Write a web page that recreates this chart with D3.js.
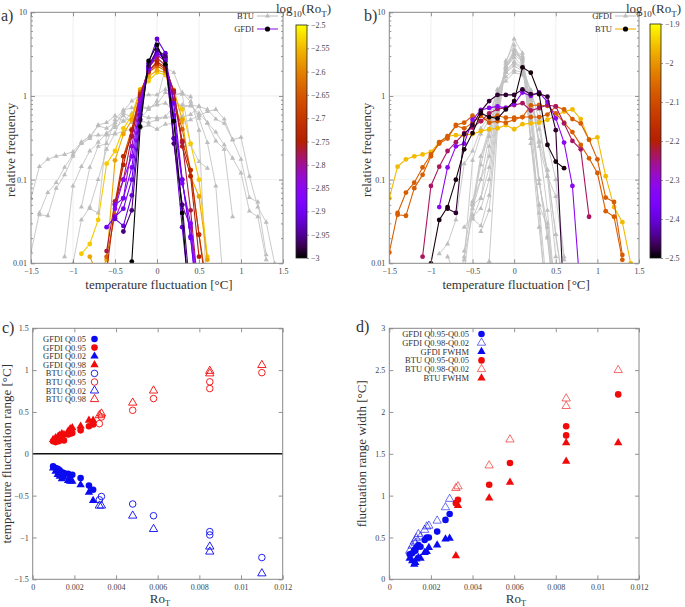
<!DOCTYPE html>
<html><head><meta charset="utf-8">
<script src="https://cdn.jsdelivr.net/npm/d3@7"></script>
<style>body{margin:0;background:#fff}</style>
</head><body>
<svg id="c" width="685" height="607"></svg>
<script>
// ---------- DATA ----------
const fluct = [-1.5,-1.4,-1.3,-1.2,-1.1,-1.0,-0.9,-0.8,-0.7,-0.6,-0.5,-0.4,-0.3,-0.2,-0.1,0,0.1,0.2,0.3,0.4,0.5,0.6,0.7,0.8,0.9,1.0,1.1,1.2,1.3,1.4,1.5];

// BTU distributions (first index into fluct, then values)
const btuCurveRo = [0.0032,0.0033,0.0048,0.0058,0.0085,0.0085,0.011];
const btuCurveFirst = [5,7,6,4,0,1,0];
const btuFreq = [
  [0.01,0.033,0.047,0.1,0.23,0.36,0.62,0.56,0.54,0.69,0.87,2.2,1.9,1.05,0.26,0.164,0.137],
  [0.045,0.04,0.35,0.45,0.66,0.87,1.03,1.03,1.03,1.2,1.05,1.07,0.98,0.39,0.003],
  [0.047,0.14,0.25,0.27,0.52,0.68,0.72,0.75,0.72,0.8,1.1,1.0,1.1,0.85,0.54,0.277,0.084,0.004],
  [0.012,0.084,0.143,0.22,0.28,0.36,0.42,0.5,0.62,0.7,0.72,0.78,0.82,0.67,0.72,0.78,0.75,0.47,0.29,0.23,0.036],
  [0.0135,0.04,0.07,0.092,0.14,0.2,0.27,0.31,0.45,0.48,0.58,0.5,0.55,0.58,0.55,0.55,0.56,0.56,0.56,0.6,0.75,0.69,0.53,0.47,0.3,0.175,0.061,0.054,0.0126],
  [0.038,0.037,0.079,0.114,0.19,0.28,0.33,0.44,0.41,0.48,0.58,0.48,0.5,0.48,0.52,0.56,0.77,0.78,0.76,0.62,0.48,0.37,0.26,0.18,0.12,0.042,0.036,0.011],
  [0.06,0.143,0.175,0.19,0.2,0.215,0.28,0.33,0.34,0.34,0.35,0.38,0.4,0.41,0.45,0.4,0.46,0.47,0.48,0.52,0.58,0.65,0.69,0.53,0.3,0.32,0.11,0.047,0.031,0.01]
];

// GFDI distributions
const gfdiCurveRo = [0.00098,0.0011,0.0012,0.00125,0.0013,0.0014,0.0015,0.0017,0.0018,0.0019,0.0023,0.0027,0.0029];
const gfdiCurveFirst = [12,11,10,9,10,10,10,9,9,10,9,7,6];
const gfdiFreq = [
  [0.0105,0.43,2.62,4.07,2.39,0.5,0.04,0.002],
  [0.024,0.043,0.52,2.3,3.55,3.0,0.27,0.05,0.004],
  [0.034,0.028,0.065,0.6,2.45,4.8,3.24,0.31,0.027,0.003],
  [0.027,0.036,0.045,0.1,0.68,2.2,3.24,2.9,0.82,0.1,0.021,0.002],
  [0.05,0.06,0.14,0.75,2.1,3.55,2.8,0.59,0.1,0.02,0.003],
  [0.045,0.1,0.19,0.8,2.08,3.3,2.7,0.52,0.09,0.03,0.004],
  [0.034,0.06,0.25,0.9,2.2,3.1,2.6,0.31,0.05,0.027,0.003],
  [0.014,0.055,0.1,0.33,0.95,2.2,2.87,2.3,1.1,0.28,0.043,0.004],
  [0.008,0.05,0.15,0.39,1.0,2.0,2.57,2.2,1.15,0.25,0.11,0.012],
  [0.052,0.19,0.33,1.05,1.95,2.45,2.1,0.9,0.29,0.13,0.022,0.004],
  [0.012,0.038,0.19,0.4,1.1,1.9,2.28,2.0,0.9,0.4,0.13,0.022,0.005],
  [0.012,0.007,0.011,0.17,0.35,0.52,1.18,1.7,2.04,1.9,1.18,0.52,0.11,0.063,0.011],
  [0.013,0.017,0.033,0.155,0.22,0.41,0.58,1.2,1.51,1.92,1.78,0.96,0.69,0.27,0.1,0.012]
];

// Quantile / width statistics
const gfdiRo   = [0.00098,0.0011,0.0012,0.00125,0.0013,0.0014,0.0015,0.0017,0.0018,0.0019,0.0023,0.0027,0.0029];
const gfdiQ05  = [-0.15,-0.17,-0.18,-0.19,-0.20,-0.22,-0.23,-0.24,-0.26,-0.25,-0.29,-0.38,-0.43];
const gfdiQ95  = [0.15,0.14,0.17,0.15,0.18,0.19,0.16,0.23,0.24,0.25,0.28,0.33,0.35];
const gfdiQ02  = [-0.17,-0.21,-0.25,-0.22,-0.27,-0.30,-0.28,-0.32,-0.33,-0.33,-0.37,-0.46,-0.56];
const gfdiQ98  = [0.17,0.19,0.20,0.21,0.22,0.24,0.23,0.27,0.30,0.31,0.33,0.40,0.40];
const gfdiW90  = [0.30,0.31,0.35,0.34,0.38,0.41,0.39,0.47,0.50,0.50,0.57,0.71,0.78];
const gfdiW96  = [0.34,0.40,0.45,0.43,0.49,0.54,0.51,0.59,0.63,0.64,0.70,0.86,0.96];
const gfdiFWHM = [0.25,0.22,0.18,0.20,0.24,0.26,0.25,0.32,0.33,0.38,0.41,0.48,0.49];

const btuRo   = [0.0032,0.0033,0.0048,0.0058,0.0085,0.0085,0.011];
const btuQ05  = [-0.55,-0.51,-0.60,-0.74,-0.93,-0.97,-1.24];
const btuQ95  = [0.36,0.44,0.52,0.66,0.78,0.86,0.97];
const btuQ02  = [-0.62,-0.62,-0.74,-0.90,-1.11,-1.17,-1.43];
const btuQ98  = [0.46,0.48,0.61,0.755,0.96,0.99,1.06];
const btuW90  = [0.91,0.95,1.13,1.39,1.72,1.83,2.21];
const btuW96  = [1.09,1.11,1.36,1.67,2.07,2.16,2.50];
const btuFWHM = [0.28,0.88,0.97,1.16,1.41,1.63,1.63];

// tick labels
const distXTicks = [-1.5,-1,-0.5,0,0.5,1,1.5];
const distYTicks = [0.01,0.1,1,10];
const cbTicksA = [-2.5,-2.55,-2.6,-2.65,-2.7,-2.75,-2.8,-2.85,-2.9,-2.95,-3];
const cbTicksB = [-1.9,-2,-2.1,-2.2,-2.3,-2.4,-2.5];
const roTicks = [0,0.002,0.004,0.006,0.008,0.01,0.012];
const rangeTicks = [-1.5,-1,-0.5,0,0.5,1,1.5];
const widthTicks = [0,0.5,1,1.5,2,2.5,3];

// ---------- STYLE ----------
const FONT = "'Liberation Serif','Times New Roman',serif";
const BLUE = "#0b0bf0", RED = "#f00a0a";
const GRAYL = "#c4c4c4", GRAYM = "#bdbdbd";
const svg = d3.select('#c');
const defs = svg.append('defs');

function palette(t){
  t = Math.max(0, Math.min(1, t));
  const r = Math.sqrt(t), g = t*t*t, b = Math.max(0, Math.sin(2*Math.PI*t));
  return d3.rgb(r*255, g*255, b*255).toString();
}

function styleAxis(sel){
  sel.attr('font-family',FONT);
  sel.select('.domain').remove();
  sel.selectAll('.tick line').attr('stroke','#777').attr('stroke-width',0.8);
  sel.selectAll('.tick text').attr('font-family',FONT).attr('font-size',8).attr('fill','#444');
}

function frameAxes(g, x, y, box, xt, xf, yt, yf, yMinor){
  const [X0,X1,Y0,Y1] = box;
  g.append('g').attr('transform',`translate(0,${Y1})`)
    .call(d3.axisBottom(x).tickValues(xt).tickFormat(xf).tickSizeInner(-4).tickSizeOuter(0).tickPadding(5)).call(styleAxis);
  g.append('g').attr('transform',`translate(0,${Y0})`)
    .call(d3.axisTop(x).tickValues(xt).tickFormat('').tickSizeInner(-4).tickSizeOuter(0)).call(styleAxis);
  g.append('g').attr('transform',`translate(${X0},0)`)
    .call(d3.axisLeft(y).tickValues(yt).tickFormat(yf).tickSizeInner(-4).tickSizeOuter(0).tickPadding(4)).call(styleAxis);
  g.append('g').attr('transform',`translate(${X1},0)`)
    .call(d3.axisRight(y).tickValues(yt).tickFormat('').tickSizeInner(-4).tickSizeOuter(0)).call(styleAxis);
  if (yMinor){
    g.append('g').attr('transform',`translate(${X0},0)`)
      .call(d3.axisLeft(y).tickValues(yMinor).tickFormat('').tickSizeInner(-2).tickSizeOuter(0)).call(styleAxis);
    g.append('g').attr('transform',`translate(${X1},0)`)
      .call(d3.axisRight(y).tickValues(yMinor).tickFormat('').tickSizeInner(-2).tickSizeOuter(0)).call(styleAxis);
  }
  g.append('rect').attr('x',X0).attr('y',Y0).attr('width',X1-X0).attr('height',Y1-Y0)
    .attr('fill','none').attr('stroke','#888').attr('stroke-width',1);
}

function label(g, txt, x, y, size, rot, anchor){
  const t = g.append('text').attr('font-family',FONT).attr('font-size',size).attr('fill','#333')
    .attr('text-anchor',anchor||'middle');
  if (rot) t.attr('transform',`translate(${x},${y}) rotate(${rot})`); else t.attr('x',x).attr('y',y);
  return t.text(txt);
}

function roLabel(g, x, y, size){
  const t = g.append('text').attr('font-family',FONT).attr('font-size',size).attr('fill','#333')
    .attr('text-anchor','middle').attr('x',x).attr('y',y);
  t.append('tspan').text('Ro');
  t.append('tspan').attr('font-size',size*0.65).attr('dy',3).text('T');
}

function logRoLabel(g, x, y){
  const t = g.append('text').attr('font-family',FONT).attr('font-size',13).attr('fill','#333').attr('x',x).attr('y',y);
  t.append('tspan').text('log');
  t.append('tspan').attr('font-size',9).attr('dy',4).text('10');
  t.append('tspan').attr('dy',-4).text('(Ro');
  t.append('tspan').attr('font-size',9).attr('dy',4).text('T');
  t.append('tspan').attr('dy',-4).text(')');
}

const yMinorLog = [];
[0.01,0.1,1].forEach(d => { for (let k=2;k<=9;k++) yMinorLog.push(d*k); });

function curvePoints(first, vals){ return vals.map((v,j)=>[fluct[first+j], v]); }

function distPanel(opt){
  const [X0,X1,Y0,Y1] = opt.box;
  const g = svg.append('g');
  const x = d3.scaleLinear().domain([-1.5,1.5]).range([X0,X1]);
  const y = d3.scaleLog().domain([0.01,10]).range([Y1,Y0]);
  // grid
  g.append('g').selectAll('line').data([-1,-0.5,0,0.5,1]).join('line')
    .attr('x1',d=>x(d)).attr('x2',d=>x(d)).attr('y1',Y0).attr('y2',Y1).attr('stroke','#ececec').attr('stroke-width',0.8);
  g.append('g').selectAll('line').data([0.1,1]).join('line')
    .attr('y1',d=>y(d)).attr('y2',d=>y(d)).attr('x1',X0).attr('x2',X1).attr('stroke','#ececec').attr('stroke-width',0.8);
  const cid = 'clip'+opt.id;
  defs.append('clipPath').attr('id',cid).append('rect').attr('x',X0).attr('y',Y0-3).attr('width',X1-X0).attr('height',Y1-Y0+3);
  const plot = g.append('g').attr('clip-path',`url(#${cid})`);
  const line = d3.line().x(d=>x(d[0])).y(d=>y(d[1]));
  const tri = d3.symbol().type(d3.symbolTriangle).size(11);
  // gray background set
  opt.grayFreq.forEach((vals,i)=>{
    const pts = curvePoints(opt.grayFirst[i], vals);
    plot.append('path').attr('d',line(pts)).attr('fill','none').attr('stroke',GRAYL).attr('stroke-width',0.9);
    plot.append('g').selectAll('path').data(pts).join('path')
      .attr('transform',d=>`translate(${x(d[0])},${y(d[1])})`).attr('d',tri).attr('fill',GRAYM);
  });
  // coloured set (high Ro first)
  const order = d3.range(opt.colFreq.length).reverse();
  order.forEach(i=>{
    const pts = curvePoints(opt.colFirst[i], opt.colFreq[i]);
    const col = palette((Math.log10(opt.colRo[i]) - opt.cbMin)/(opt.cbMax-opt.cbMin));
    plot.append('path').attr('d',line(pts)).attr('fill','none').attr('stroke',col).attr('stroke-width',1.1);
    plot.append('g').selectAll('circle').data(pts).join('circle')
      .attr('cx',d=>x(d[0])).attr('cy',d=>y(d[1])).attr('r',2.4).attr('fill',col);
  });
  frameAxes(g, x, y, opt.box, distXTicks, d3.format('~g'), distYTicks, d3.format('~g'), yMinorLog);
  // axis labels
  label(g, 'temperature fluctuation [°C]', (X0+X1)/2+2, 289, 13);
  label(g, 'relative frequency', opt.ylabX, (Y0+Y1)/2+12, 13, -90);
  label(g, opt.tag, opt.tagX, 21, 16, 0, 'start');
  // legend
  const L = opt.legend;
  [0,1].forEach(k=>{
    const ly = L.y + k*13;
    label(g, L.names[k], L.tx, ly+3, 8.5, 0, 'end');
    g.append('line').attr('x1',L.lx).attr('x2',L.lx+21).attr('y1',ly).attr('y2',ly)
      .attr('stroke', k===0 ? GRAYL : L.col).attr('stroke-width',1.1);
    if (k===0) g.append('path').attr('transform',`translate(${L.lx+10.5},${ly})`).attr('d',tri).attr('fill',GRAYM);
    else g.append('circle').attr('cx',L.lx+10.5).attr('cy',ly).attr('r',2.6).attr('fill','#000');
  });
  // colour bar
  const cb = opt.cb; // [x0,x1,y0,y1]
  const gid = 'grad'+opt.id;
  const grad = defs.append('linearGradient').attr('id',gid).attr('x1',0).attr('x2',0).attr('y1',1).attr('y2',0);
  d3.range(0,1.0001,0.05).forEach(t=>grad.append('stop').attr('offset',t).attr('stop-color',palette(t)));
  g.append('rect').attr('x',cb[0]).attr('y',cb[2]).attr('width',cb[1]-cb[0]).attr('height',cb[3]-cb[2])
    .attr('fill',`url(#${gid})`).attr('stroke','#222').attr('stroke-width',0.8);
  const cy = d3.scaleLinear().domain([opt.cbMin,opt.cbMax]).range([cb[3],cb[2]]);
  g.append('g').attr('transform',`translate(${cb[1]},0)`)
    .call(d3.axisRight(cy).tickValues(opt.cbTicks).tickFormat(d3.format('~g')).tickSizeInner(2).tickSizeOuter(0).tickPadding(2))
    .call(styleAxis);
  logRoLabel(g, opt.cbTitleX, 13);
}

distPanel({id:'a', box:[31,283,12.3,263.3], tag:'a)', tagX:1, ylabX:15,
  grayFreq:btuFreq, grayFirst:btuCurveFirst,
  colFreq:gfdiFreq, colFirst:gfdiCurveFirst, colRo:gfdiCurveRo, cbMin:-3, cbMax:-2.5,
  legend:{names:['BTU','GFDI'], y:16, tx:254, lx:257, col:'#9a1fe0'},
  cb:[296,307,25,258], cbTicks:cbTicksA, cbTitleX:276});

distPanel({id:'b', box:[389.3,639,12.3,263.3], tag:'b)', tagX:364, ylabX:371,
  grayFreq:gfdiFreq, grayFirst:gfdiCurveFirst,
  colFreq:btuFreq, colFirst:btuCurveFirst, colRo:btuCurveRo, cbMin:-2.5, cbMax:-1.9,
  legend:{names:['GFDI','BTU'], y:16, tx:612, lx:615, col:'#f0b000'},
  cb:[650,661,24,258], cbTicks:cbTicksB, cbTitleX:626});

// ---------- scatter panels ----------
const symCircle = d3.symbol().type(d3.symbolCircle).size(34);
const symTri = d3.symbol().type(d3.symbolTriangle).size(30);

function drawSeries(g, x, y, xs, ys, shape, col, filled, sw){
  g.append('g').selectAll('path').data(ys.map((v,i)=>[xs[i],v])).join('path')
    .attr('transform',d=>`translate(${x(d[0])},${y(d[1])})`)
    .attr('d', shape==='c' ? symCircle : symTri)
    .attr('fill', filled ? col : 'none').attr('stroke', col).attr('stroke-width', filled ? 0 : (sw||0.9));
}
function legendEntry(g, txt, tx, mx, yy, shape, col, filled, sw){
  label(g, txt, tx, yy+3, 8.5, 0, 'end');
  g.append('path').attr('transform',`translate(${mx},${yy})`).attr('d', shape==='c'?symCircle:symTri)
    .attr('fill', filled ? col : 'none').attr('stroke', col).attr('stroke-width', filled?0:(sw||0.9));
}

// panel c
(function(){
  const box = [32.7,282.7,328.3,579.3];
  const g = svg.append('g');
  const x = d3.scaleLinear().domain([0,0.012]).range([box[0],box[1]]);
  const y = d3.scaleLinear().domain([-1.5,1.5]).range([box[3],box[2]]);
  g.append('line').attr('x1',box[0]).attr('x2',box[1]).attr('y1',y(0)).attr('y2',y(0)).attr('stroke','#111').attr('stroke-width',1.4);
  drawSeries(g,x,y,gfdiRo,gfdiQ98,'t',RED,true);
  drawSeries(g,x,y,gfdiRo,gfdiQ95,'c',RED,true);
  drawSeries(g,x,y,gfdiRo,gfdiQ02,'t',BLUE,true);
  drawSeries(g,x,y,gfdiRo,gfdiQ05,'c',BLUE,true);
  drawSeries(g,x,y,btuRo,btuQ05,'c',BLUE,false);
  drawSeries(g,x,y,btuRo,btuQ95,'c',RED,false);
  drawSeries(g,x,y,btuRo,btuQ02,'t',BLUE,false);
  drawSeries(g,x,y,btuRo,btuQ98,'t',RED,false);
  frameAxes(g, x, y, box, roTicks, d3.format('~g'), rangeTicks, d3.format('~g'));
  const L = [['GFDI Q0.05','c',BLUE,true],['GFDI Q0.95','c',RED,true],['GFDI Q0.02','t',BLUE,true],['GFDI Q0.98','t',RED,true],
             ['BTU Q0.05','c',BLUE,false],['BTU Q0.95','c',RED,false],['BTU Q0.02','t',BLUE,false],['BTU Q0.98','t',RED,false]];
  L.forEach((e,i)=>legendEntry(g,e[0],86,94.5,339+i*8.6,e[1],e[2],e[3]));
  label(g,'temperature fluctuation range [°C]',11,(box[2]+box[3])/2,13,-90);
  roLabel(g,160,603,13);
  label(g,'c)',2,333,16,0,'start');
})();

// panel d
(function(){
  const box = [389.3,639,328.3,579.3];
  const g = svg.append('g');
  const x = d3.scaleLinear().domain([0,0.012]).range([box[0],box[1]]);
  const y = d3.scaleLinear().domain([0,3]).range([box[3],box[2]]);
  drawSeries(g,x,y,gfdiRo,gfdiW96,'t',BLUE,false,0.6);
  drawSeries(g,x,y,gfdiRo,gfdiFWHM,'t',BLUE,true);
  drawSeries(g,x,y,gfdiRo,gfdiW90,'c',BLUE,true);
  drawSeries(g,x,y,btuRo,btuW96,'t',RED,false,0.6);
  drawSeries(g,x,y,btuRo,btuFWHM,'t',RED,true);
  drawSeries(g,x,y,btuRo,btuW90,'c',RED,true);
  frameAxes(g, x, y, box, roTicks, d3.format('~g'), widthTicks, d3.format('~g'));
  const L = [['GFDI Q0.95-Q0.05','c',BLUE,true],['GFDI Q0.98-Q0.02','t',BLUE,false],['GFDI FWHM','t',BLUE,true],
             ['BTU Q0.95-Q0.05','c',RED,true],['BTU Q0.98-Q0.02','t',RED,false],['BTU FWHM','t',RED,true]];
  L.forEach((e,i)=>legendEntry(g,e[0],469,481.5,334+i*8.8,e[1],e[2],e[3],0.6));
  label(g,'fluctuation range width [°C]',366,(box[2]+box[3])/2,13,-90);
  roLabel(g,516,603,13);
  label(g,'d)',356,332,16,0,'start');
})();
</script>
</body></html>
